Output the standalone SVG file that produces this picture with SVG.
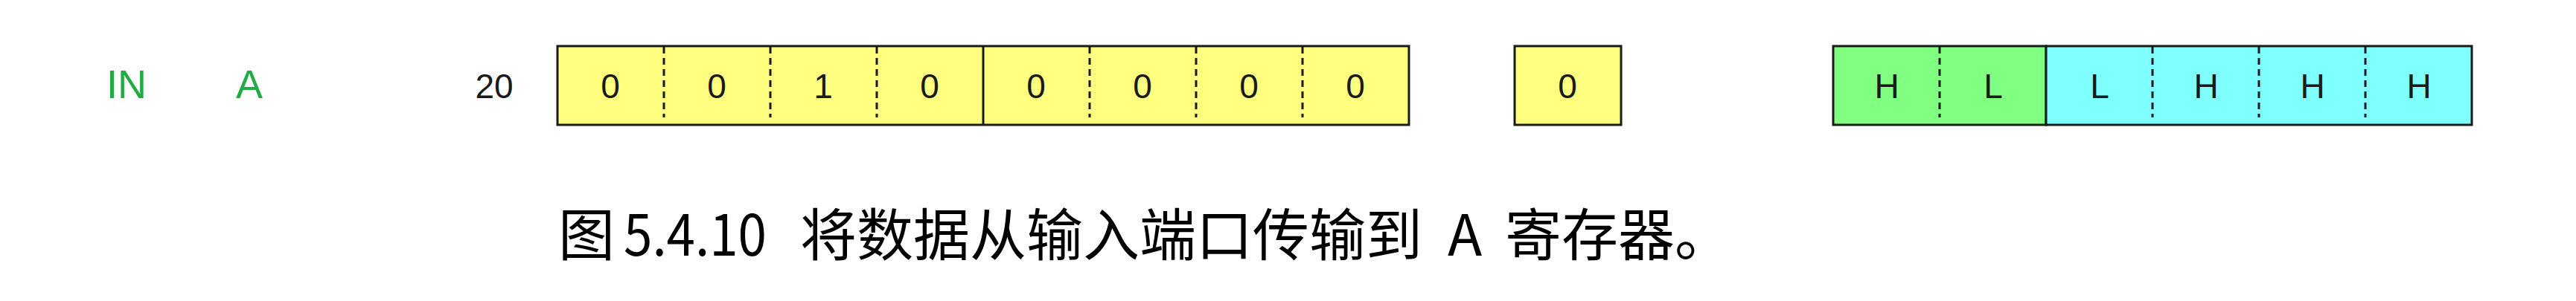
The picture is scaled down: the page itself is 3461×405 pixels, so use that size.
<svg xmlns="http://www.w3.org/2000/svg" width="3461" height="405" viewBox="0 0 3461 405">
<style>
.cell{stroke:#1a1a1a;stroke-width:3}
.y{fill:#ffff80}.g{fill:#80ff80}.c{fill:#80ffff}
.solid{stroke:#1a1a1a;stroke-width:3}
.dash{stroke:#1a1a1a;stroke-width:3;stroke-dasharray:9 6}
.v{font-family:"Liberation Sans",Arial,sans-serif;font-size:46px;fill:#1a1a1a;text-anchor:middle}
.lbl{font-family:"Liberation Sans",Arial,sans-serif;font-size:54px;fill:#22aa44}
.cap{font-family:"Noto Sans CJK SC","Liberation Sans",sans-serif;font-size:76px;fill:#000}
</style>
<rect width="3461" height="405" fill="#fff"/>
<g id="labels">
<text class="lbl" x="143" y="132">IN</text>
<text class="lbl" x="317" y="132">A</text>
<text class="v" x="664" y="132">20</text>
</g>
<g id="reg20">
<rect class="cell y" x="749" y="62" width="1144" height="106"/>
<line class="dash" x1="892" y1="63" x2="892" y2="158"/>
<line class="dash" x1="1035" y1="63" x2="1035" y2="158"/>
<line class="dash" x1="1178" y1="63" x2="1178" y2="158"/>
<line class="solid" x1="1321" y1="62" x2="1321" y2="168"/>
<line class="dash" x1="1464" y1="63" x2="1464" y2="158"/>
<line class="dash" x1="1607" y1="63" x2="1607" y2="158"/>
<line class="dash" x1="1750" y1="63" x2="1750" y2="158"/>
<text class="v" x="820" y="132">0</text>
<text class="v" x="963" y="132">0</text>
<text class="v" x="1106" y="132">1</text>
<text class="v" x="1249" y="132">0</text>
<text class="v" x="1392" y="132">0</text>
<text class="v" x="1535" y="132">0</text>
<text class="v" x="1678" y="132">0</text>
<text class="v" x="1821" y="132">0</text>
</g>
<g id="bit">
<rect class="cell y" x="2035" y="62" width="143" height="106"/>
<text class="v" x="2106" y="132">0</text>
</g>
<g id="port">
<rect class="cell g" x="2463" y="62" width="286" height="106"/>
<rect class="cell c" x="2749" y="62" width="572" height="106"/>
<line class="dash" x1="2606" y1="63" x2="2606" y2="158"/>
<line class="dash" x1="2892" y1="63" x2="2892" y2="158"/>
<line class="dash" x1="3035" y1="63" x2="3035" y2="158"/>
<line class="dash" x1="3178" y1="63" x2="3178" y2="158"/>
<text class="v" x="2535" y="132">H</text>
<text class="v" x="2678" y="132">L</text>
<text class="v" x="2821" y="132">L</text>
<text class="v" x="2964" y="132">H</text>
<text class="v" x="3107" y="132">H</text>
<text class="v" x="3250" y="132">H</text>
</g>
<g id="connectors"></g>
<g id="caption">
<text class="cap" y="344"><tspan x="750">图</tspan><tspan x="838" textLength="192" lengthAdjust="spacingAndGlyphs">5.4.10</tspan><tspan x="1075">将数据从输入端口传输到</tspan><tspan x="1945">A</tspan><tspan x="2022">寄存器。</tspan></text>
</g>
</svg>
